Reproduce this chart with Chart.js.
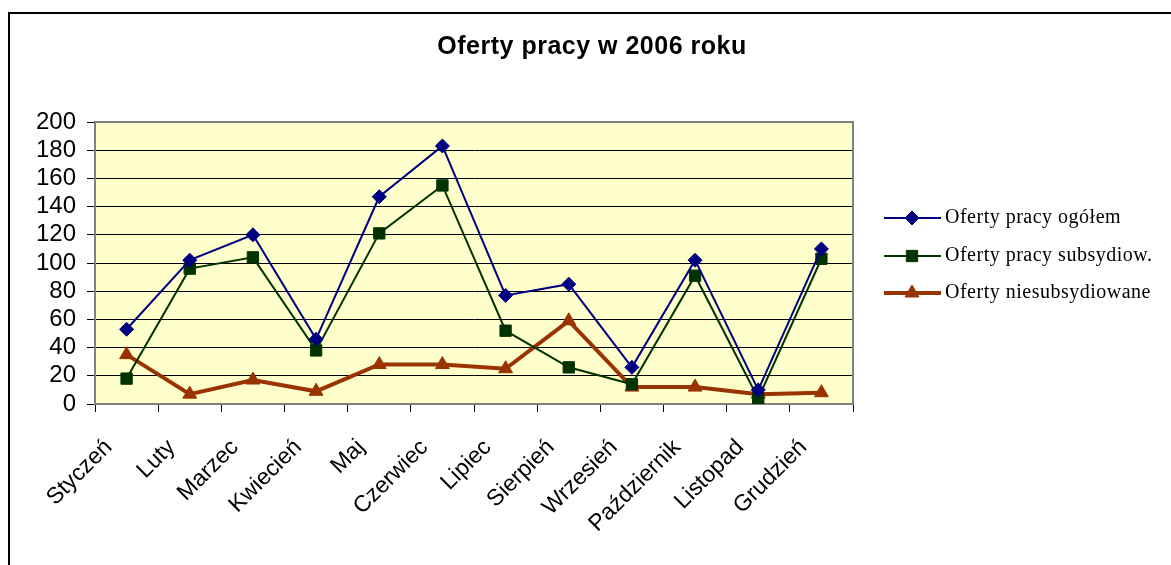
<!DOCTYPE html>
<html>
<head>
<meta charset="utf-8">
<script src="https://cdn.jsdelivr.net/npm/chart.js@4.4.1/dist/chart.umd.min.js"></script>
<style>
  html, body { margin: 0; padding: 0; background: #fff; }
  #wrap { width: 1171px; height: 565px; position: relative; }
</style>
</head>
<body>
<div id="wrap"><canvas id="chartOferty"></canvas></div>
<script>
const miesiace = ["Styczeń", "Luty", "Marzec", "Kwiecień", "Maj", "Czerwiec", "Lipiec",
  "Sierpień", "Wrzesień", "Październik", "Listopad", "Grudzień"];
const ofertyOgolem = [53, 102, 120, 46, 147, 183, 77, 85, 26, 102, 10, 110];
const ofertySubsydiow = [18, 96, 104, 38, 121, 155, 52, 26, 14, 91, 4, 103];
const ofertyNiesubsydiowane = [35, 7, 17, 9, 28, 28, 25, 59, 12, 12, 7, 8];
const tytul = 'Oferty pracy w 2006 roku';
const etykietySerii = ['Oferty pracy ogółem', 'Oferty pracy subsydiow.', 'Oferty niesubsydiowane'];

const sansFont = '"Liberation Sans", Arial, sans-serif';
const serifFont = '"Liberation Serif", "Times New Roman", serif';

// tlo, ramka, tytul i legenda rysowane recznie
const ramkaPlugin = {
  id: 'ramka',
  beforeDraw(chart) {
    const ctx = chart.ctx;
    const a = chart.chartArea;
    ctx.save();
    ctx.fillStyle = '#fff';
    ctx.fillRect(0, 0, chart.width, chart.height);
    ctx.strokeStyle = '#000';
    ctx.lineWidth = 2;
    ctx.strokeRect(9, 13, chart.width + 10, chart.height + 10);
    ctx.fillStyle = '#FFFFCC';
    ctx.fillRect(a.left, a.top, a.right - a.left, a.bottom - a.top);
    ctx.restore();
  },
  beforeDatasetsDraw(chart) {
    const ctx = chart.ctx;
    const a = chart.chartArea;
    ctx.save();
    ctx.strokeStyle = '#808080';
    ctx.lineWidth = 2;
    ctx.strokeRect(a.left, a.top, a.right - a.left, a.bottom - a.top);
    ctx.restore();
  },
  afterDraw(chart) {
    const ctx = chart.ctx;
    ctx.save();
    ctx.fillStyle = '#000';
    ctx.font = 'bold 25px ' + sansFont;
    ctx.letterSpacing = '0.5px';
    ctx.textAlign = 'center';
    ctx.textBaseline = 'middle';
    ctx.fillText(tytul, 592, 47);

    const rows = [218, 256, 293];
    chart.data.datasets.forEach((ds, i) => {
      const y = rows[i];
      ctx.strokeStyle = ds.borderColor;
      ctx.fillStyle = ds.borderColor;
      ctx.lineWidth = ds.borderWidth;
      ctx.beginPath();
      ctx.moveTo(884, y);
      ctx.lineTo(941, y);
      ctx.stroke();
      ctx.lineWidth = 1;
      Chart.helpers.drawPoint(ctx, {
        pointStyle: ds.pointStyle,
        radius: ds.pointRadius,
        borderWidth: 1,
        rotation: 0
      }, 912, y);
      ctx.fillStyle = '#000';
      ctx.font = '20px ' + serifFont;
      ctx.letterSpacing = '0.5px';
      ctx.textAlign = 'left';
      ctx.textBaseline = 'middle';
      ctx.fillText(ds.label, 945, y);
    });
    ctx.restore();
  }
};

function seria(label, data, color, width, style, radius) {
  return {
    label: label,
    data: data,
    borderColor: color,
    backgroundColor: color,
    borderWidth: width,
    pointStyle: style,
    pointRadius: radius,
    pointBackgroundColor: color,
    pointBorderColor: color,
    pointBorderWidth: 1,
    tension: 0
  };
}

const chart = new Chart(document.getElementById('chartOferty'), {
  type: 'line',
  data: {
    labels: miesiace,
    datasets: [
      seria(etykietySerii[0], ofertyOgolem, '#000080', 2, 'rectRot', 7),
      seria(etykietySerii[1], ofertySubsydiow, '#003300', 2, 'rect', 8),
      seria(etykietySerii[2], ofertyNiesubsydiowane, '#993300', 4, 'triangle', 8)
    ]
  },
  options: {
    responsive: true,
    maintainAspectRatio: false,
    animation: false,
    layout: { padding: { left: 0, right: 318, top: 122, bottom: 0 } },
    plugins: {
      legend: { display: false },
      title: { display: false },
      tooltip: { enabled: false }
    },
    scales: {
      x: {
        offset: true,
        grid: { offset: true, drawOnChartArea: false, drawTicks: true, tickLength: 8, color: '#000' },
        border: { color: '#000', width: 1 },
        ticks: {
          color: '#000',
          font: { family: sansFont, size: 23 },
          minRotation: 45,
          maxRotation: 45,
          padding: 22,
          labelOffset: -18,
          autoSkip: false
        },
        afterFit(scale) { scale.height = 161; }
      },
      y: {
        min: 0,
        max: 200,
        ticks: {
          stepSize: 20,
          autoSkip: false,
          color: '#000',
          font: { family: sansFont, size: 24 },
          padding: 11
        },
        grid: { color: '#000', lineWidth: 1, tickLength: 8 },
        border: { color: '#808080', width: 1 },
        afterFit(scale) { scale.width = 95; }
      }
    }
  },
  plugins: [ramkaPlugin]
});
</script>
</body>
</html>
